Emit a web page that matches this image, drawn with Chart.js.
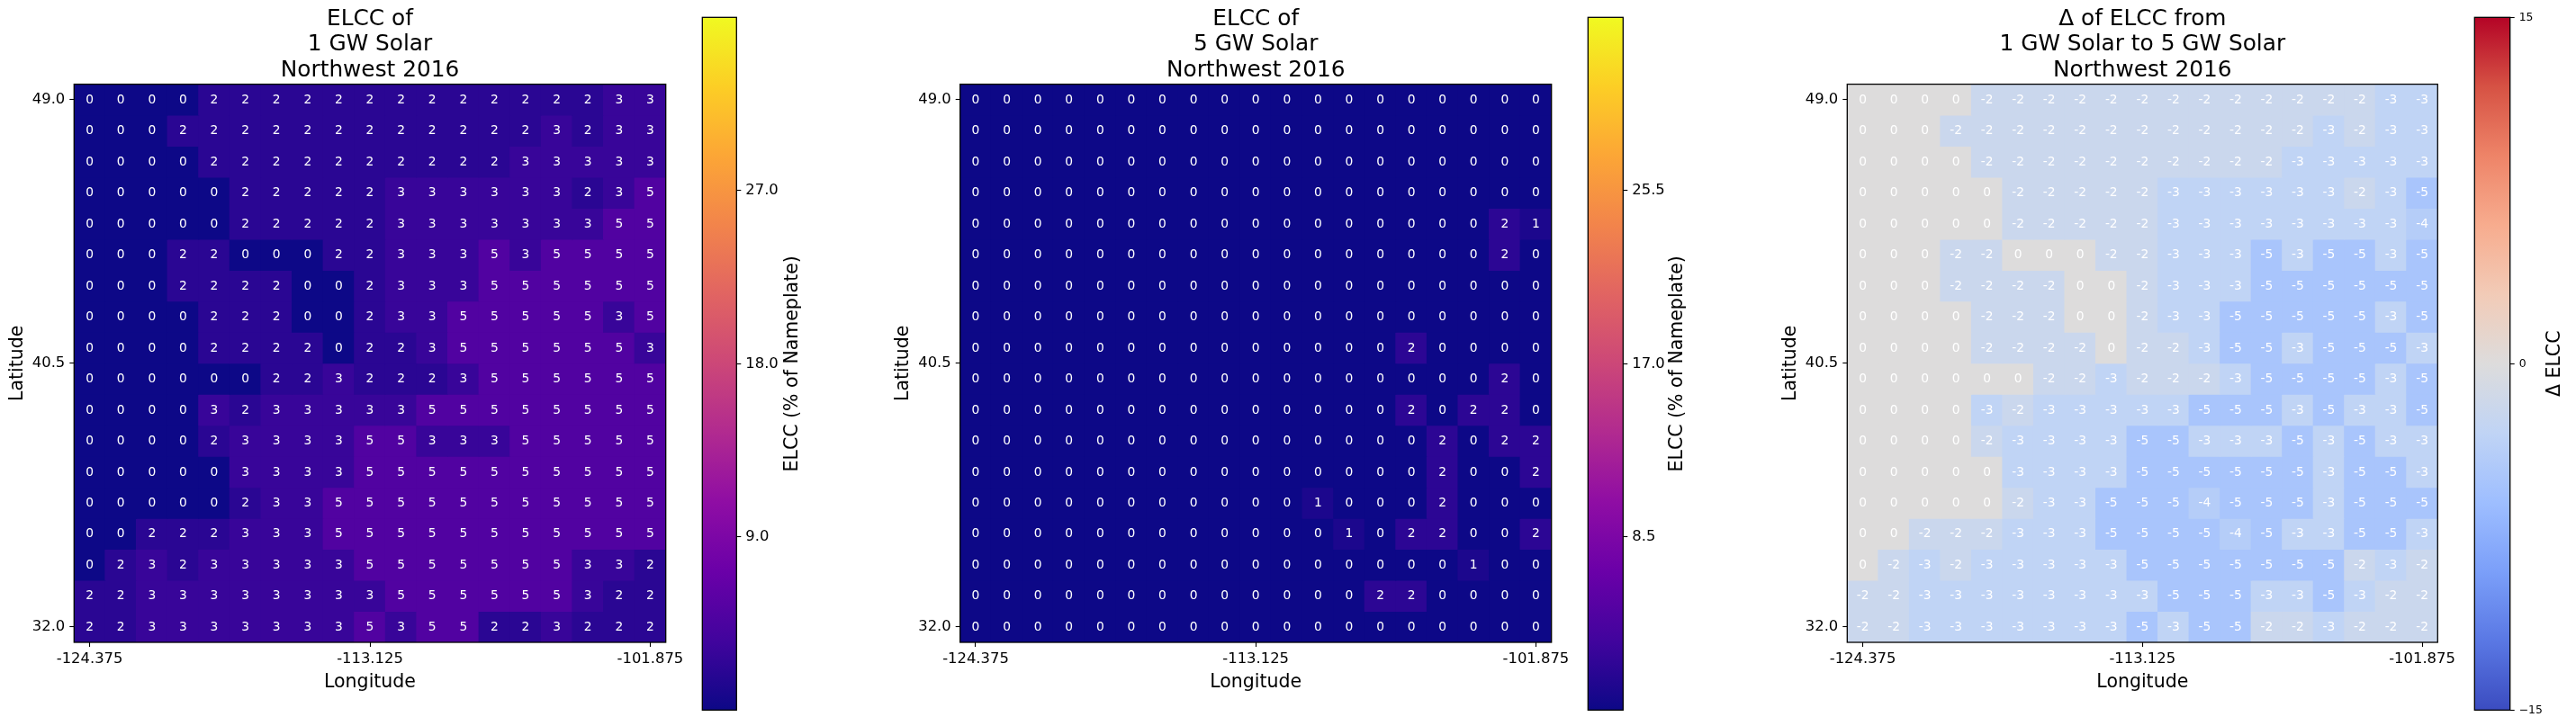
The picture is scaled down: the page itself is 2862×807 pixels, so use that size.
<!DOCTYPE html>
<html>
<head>
<meta charset="utf-8">
<script src="https://cdn.jsdelivr.net/npm/chart.js@4"></script>
<style>
html,body{margin:0;padding:0;background:#fff;width:2862px;height:807px;overflow:hidden}
canvas{position:absolute;top:0;display:block}
</style>
</head>
<body>
<script>
const longitudes = ['-124.375','-123.125','-121.875','-120.625','-119.375','-118.125','-116.875','-115.625','-114.375','-113.125','-111.875','-110.625','-109.375','-108.125','-106.875','-105.625','-104.375','-103.125','-101.875'];
const latitudes = [49,48,47,46,45,44,43,42,41,40,39,38,37,36,35,34,33,32];
const lonTickLabels = ['-124.375','-113.125','-101.875'];
const latTicks = [49,40.5,32];

const elcc1GW = [
[0,0,0,0,2,2,2,2,2,2,2,2,2,2,2,2,2,3,3],
[0,0,0,2,2,2,2,2,2,2,2,2,2,2,2,3,2,3,3],
[0,0,0,0,2,2,2,2,2,2,2,2,2,2,3,3,3,3,3],
[0,0,0,0,0,2,2,2,2,2,3,3,3,3,3,3,2,3,5],
[0,0,0,0,0,2,2,2,2,2,3,3,3,3,3,3,3,5,5],
[0,0,0,2,2,0,0,0,2,2,3,3,3,5,3,5,5,5,5],
[0,0,0,2,2,2,2,0,0,2,3,3,3,5,5,5,5,5,5],
[0,0,0,0,2,2,2,0,0,2,3,3,5,5,5,5,5,3,5],
[0,0,0,0,2,2,2,2,0,2,2,3,5,5,5,5,5,5,3],
[0,0,0,0,0,0,2,2,3,2,2,2,3,5,5,5,5,5,5],
[0,0,0,0,3,2,3,3,3,3,3,5,5,5,5,5,5,5,5],
[0,0,0,0,2,3,3,3,3,5,5,3,3,3,5,5,5,5,5],
[0,0,0,0,0,3,3,3,3,5,5,5,5,5,5,5,5,5,5],
[0,0,0,0,0,2,3,3,5,5,5,5,5,5,5,5,5,5,5],
[0,0,2,2,2,3,3,3,5,5,5,5,5,5,5,5,5,5,5],
[0,2,3,2,3,3,3,3,3,5,5,5,5,5,5,5,3,3,2],
[2,2,3,3,3,3,3,3,3,3,5,5,5,5,5,5,3,2,2],
[2,2,3,3,3,3,3,3,3,5,3,5,5,2,2,3,2,2,2]
];
const elcc5GW = [
[0,0,0,0,0,0,0,0,0,0,0,0,0,0,0,0,0,0,0],
[0,0,0,0,0,0,0,0,0,0,0,0,0,0,0,0,0,0,0],
[0,0,0,0,0,0,0,0,0,0,0,0,0,0,0,0,0,0,0],
[0,0,0,0,0,0,0,0,0,0,0,0,0,0,0,0,0,0,0],
[0,0,0,0,0,0,0,0,0,0,0,0,0,0,0,0,0,2,1],
[0,0,0,0,0,0,0,0,0,0,0,0,0,0,0,0,0,2,0],
[0,0,0,0,0,0,0,0,0,0,0,0,0,0,0,0,0,0,0],
[0,0,0,0,0,0,0,0,0,0,0,0,0,0,0,0,0,0,0],
[0,0,0,0,0,0,0,0,0,0,0,0,0,0,2,0,0,0,0],
[0,0,0,0,0,0,0,0,0,0,0,0,0,0,0,0,0,2,0],
[0,0,0,0,0,0,0,0,0,0,0,0,0,0,2,0,2,2,0],
[0,0,0,0,0,0,0,0,0,0,0,0,0,0,0,2,0,2,2],
[0,0,0,0,0,0,0,0,0,0,0,0,0,0,0,2,0,0,2],
[0,0,0,0,0,0,0,0,0,0,0,1,0,0,0,2,0,0,0],
[0,0,0,0,0,0,0,0,0,0,0,0,1,0,2,2,0,0,2],
[0,0,0,0,0,0,0,0,0,0,0,0,0,0,0,0,1,0,0],
[0,0,0,0,0,0,0,0,0,0,0,0,0,2,2,0,0,0,0],
[0,0,0,0,0,0,0,0,0,0,0,0,0,0,0,0,0,0,0]
];
const deltaElcc = [
[0,0,0,0,-2,-2,-2,-2,-2,-2,-2,-2,-2,-2,-2,-2,-2,-3,-3],
[0,0,0,-2,-2,-2,-2,-2,-2,-2,-2,-2,-2,-2,-2,-3,-2,-3,-3],
[0,0,0,0,-2,-2,-2,-2,-2,-2,-2,-2,-2,-2,-3,-3,-3,-3,-3],
[0,0,0,0,0,-2,-2,-2,-2,-2,-3,-3,-3,-3,-3,-3,-2,-3,-5],
[0,0,0,0,0,-2,-2,-2,-2,-2,-3,-3,-3,-3,-3,-3,-3,-3,-4],
[0,0,0,-2,-2,0,0,0,-2,-2,-3,-3,-3,-5,-3,-5,-5,-3,-5],
[0,0,0,-2,-2,-2,-2,0,0,-2,-3,-3,-3,-5,-5,-5,-5,-5,-5],
[0,0,0,0,-2,-2,-2,0,0,-2,-3,-3,-5,-5,-5,-5,-5,-3,-5],
[0,0,0,0,-2,-2,-2,-2,0,-2,-2,-3,-5,-5,-3,-5,-5,-5,-3],
[0,0,0,0,0,0,-2,-2,-3,-2,-2,-2,-3,-5,-5,-5,-5,-3,-5],
[0,0,0,0,-3,-2,-3,-3,-3,-3,-3,-5,-5,-5,-3,-5,-3,-3,-5],
[0,0,0,0,-2,-3,-3,-3,-3,-5,-5,-3,-3,-3,-5,-3,-5,-3,-3],
[0,0,0,0,0,-3,-3,-3,-3,-5,-5,-5,-5,-5,-5,-3,-5,-5,-3],
[0,0,0,0,0,-2,-3,-3,-5,-5,-5,-4,-5,-5,-5,-3,-5,-5,-5],
[0,0,-2,-2,-2,-3,-3,-3,-5,-5,-5,-5,-4,-5,-3,-3,-5,-5,-3],
[0,-2,-3,-2,-3,-3,-3,-3,-3,-5,-5,-5,-5,-5,-5,-5,-2,-3,-2],
[-2,-2,-3,-3,-3,-3,-3,-3,-3,-3,-5,-5,-5,-3,-3,-5,-3,-2,-2],
[-2,-2,-3,-3,-3,-3,-3,-3,-3,-5,-3,-5,-5,-2,-2,-3,-2,-2,-2]
];
const titles1 = ['ELCC of','1 GW Solar','Northwest 2016'];
const titles2 = ['ELCC of','5 GW Solar','Northwest 2016'];
const titles3 = ['Δ of ELCC from','1 GW Solar to 5 GW Solar','Northwest 2016'];
const cbar1Range = [0,36], cbar1Ticks = [9,18,27];
const cbar2Range = [0,34], cbar2Ticks = [8.5,17,25.5];
const cbar3Range = [-15,15], cbar3Ticks = [-15,0,15];

const plasma = ['#0d0887','#41049d','#6a00a8','#8f0da4','#b12a90','#cc4778','#e16462','#f2844b','#fca636','#fcce25','#f0f921'];
const coolwarm = ['#3b4cc0','#5a78e4','#7b9ff9','#9ebeff','#c0d4f5','#dddcdc','#f2cbb7','#f7ac8e','#ee8468','#d65244','#b40426'];

const FONT = '"DejaVu Sans"';
const H = 807;

function hex(c){return [1,3,5].map(i=>parseInt(c.substr(i,2),16));}
function cmap(stops,t){
  t=Math.max(0,Math.min(1,t));
  const p=t*(stops.length-1), i=Math.min(Math.floor(p),stops.length-2), f=p-i;
  const a=hex(stops[i]), b=hex(stops[i+1]);
  return 'rgb('+a.map((v,k)=>Math.round(v+(b[k]-v)*f)).join(',')+')';
}
function newCanvas(left,width){
  const c=document.createElement('canvas');
  c.width=width;c.height=H;
  c.style.left=left+'px';c.style.width=width+'px';c.style.height=H+'px';
  document.body.appendChild(c);
  return c.getContext('2d');
}
const framePlugin={id:'frame',afterDraw(chart){
  const a=chart.chartArea,ctx=chart.ctx;
  ctx.save();ctx.strokeStyle='#000';ctx.lineWidth=1.3;
  ctx.strokeRect(a.left,a.top,a.right-a.left,a.bottom-a.top);ctx.restore();
}};
const cellLabels={id:'cellLabels',afterDatasetsDraw(chart,args,opts){
  const ctx=chart.ctx,x=chart.scales.x,y=chart.scales.y;
  ctx.save();
  ctx.font='13.8px '+FONT;ctx.fillStyle=opts.color;ctx.textAlign='center';ctx.textBaseline='middle';
  opts.values.forEach((row,r)=>row.forEach((v,c)=>{
    ctx.fillText(String(v),x.getPixelForValue(c),y.getPixelForValue(latitudes[r])+0.5);
  }));
  ctx.restore();
}};
const cbarTitle={id:'cbarTitle',afterDraw(chart,args,opts){
  const ctx=chart.ctx,a=chart.chartArea;
  ctx.save();
  ctx.font='20.5px '+FONT;ctx.fillStyle='#000';ctx.textAlign='center';ctx.textBaseline='middle';
  ctx.translate(a.right+opts.offset,(a.top+a.bottom)/2);ctx.rotate(-Math.PI/2);
  ctx.fillText(opts.text,0,0);ctx.restore();
}};

function heatmap(cfg){
  const ctx=newCanvas(cfg.canvasLeft,cfg.canvasWidth);
  const datasets=latitudes.map((lat,r)=>({
    data:cfg.values[r].map(()=>[lat-0.5,lat+0.5]),
    backgroundColor:cfg.values[r].map(v=>cmap(cfg.stops,(v-cfg.range[0])/(cfg.range[1]-cfg.range[0]))),
    borderWidth:0,barPercentage:1,categoryPercentage:1,grouped:false,inflateAmount:0.5
  }));
  new Chart(ctx,{type:'bar',data:{labels:longitudes,datasets},
    plugins:[framePlugin,cellLabels],
    options:{responsive:false,animation:false,devicePixelRatio:1,
      layout:{padding:{top:0,left:0,right:cfg.rightPad,bottom:0}},
      plugins:{legend:{display:false},tooltip:{enabled:false},
        title:{display:true,text:cfg.title,fullSize:false,color:'#000',
          font:{family:FONT,size:24.8,weight:'normal',lineHeight:1.141},
          padding:{top:7.5,bottom:1.2}},
        cellLabels:{values:cfg.values,color:'#fff'}},
      scales:{
        x:{type:'category',offset:true,
          afterBuildTicks(s){s.ticks=s.ticks.filter(t=>lonTickLabels.includes(longitudes[t.value]));},
          afterFit(s){s.height=H-714;},
          border:{display:false},
          grid:{offset:false,drawOnChartArea:false,drawTicks:true,tickLength:5,tickWidth:1.1,tickColor:'#000'},
          ticks:{autoSkip:false,maxRotation:0,minRotation:0,padding:4,color:'#000',font:{family:FONT,size:16.4}},
          title:{display:true,text:'Longitude',color:'#000',font:{family:FONT,size:20.5,lineHeight:1.2},padding:{top:0,bottom:36.5}}},
        y:{type:'linear',min:31.5,max:49.5,
          afterBuildTicks(s){s.ticks=latTicks.map(v=>({value:v}));},
          afterFit(s){s.width=cfg.plotLeft;},
          border:{display:false},
          grid:{drawOnChartArea:false,drawTicks:true,tickLength:5,tickWidth:1.1,tickColor:'#000'},
          ticks:{padding:5,color:'#000',font:{family:FONT,size:16.4},callback:v=>Number(v).toFixed(1)},
          title:{display:true,text:'Latitude',color:'#000',font:{family:FONT,size:20.5,lineHeight:1.2},padding:{top:7.4,bottom:0}}}
      }}});
}

function colorbar(cfg){
  const ctx=newCanvas(cfg.canvasLeft,cfg.canvasWidth);
  const grad=(c)=>{
    const a=c.chart.chartArea; if(!a) return cfg.stops[0];
    const g=c.chart.ctx.createLinearGradient(0,a.bottom,0,a.top);
    cfg.stops.forEach((s,i)=>g.addColorStop(i/(cfg.stops.length-1),s));
    return g;
  };
  new Chart(ctx,{type:'bar',data:{labels:['scale'],datasets:[{data:[cfg.range],backgroundColor:grad,borderWidth:0,barPercentage:1,categoryPercentage:1}]},
    plugins:[framePlugin,cbarTitle],
    options:{responsive:false,animation:false,devicePixelRatio:1,
      layout:{padding:{top:19.3,bottom:H-789.3,left:cfg.leftPad,right:0}},
      plugins:{legend:{display:false},tooltip:{enabled:false},cbarTitle:{text:cfg.label,offset:cfg.labelOffset}},
      scales:{
        x:{display:false},
        y:{type:'linear',position:'right',min:cfg.range[0],max:cfg.range[1],
          afterBuildTicks(s){s.ticks=cfg.ticks.map(v=>({value:v}));},
          afterFit(s){s.width=cfg.axisWidth;},
          border:{display:false},
          grid:{drawOnChartArea:false,drawTicks:true,tickLength:5,tickWidth:1.1,tickColor:'#000'},
          ticks:{padding:5,color:'#000',font:{family:FONT,size:cfg.tickSize},callback:cfg.fmt}}
      }}});
}

heatmap({canvasLeft:0,canvasWidth:770,plotLeft:82.3,rightPad:30.3,title:titles1,values:elcc1GW,stops:plasma,range:cbar1Range});
colorbar({canvasLeft:770,canvasWidth:130,leftPad:10.3,axisWidth:81.7,range:cbar1Range,ticks:cbar1Ticks,stops:plasma,label:'ELCC (% of Nameplate)',labelOffset:62,tickSize:16.4,fmt:v=>Number(v).toFixed(1)});
heatmap({canvasLeft:984,canvasWidth:770,plotLeft:82.7,rightPad:30.3,title:titles2,values:elcc5GW,stops:plasma,range:cbar2Range});
colorbar({canvasLeft:1754,canvasWidth:130,leftPad:10.3,axisWidth:80.7,range:cbar2Range,ticks:cbar2Ticks,stops:plasma,label:'ELCC (% of Nameplate)',labelOffset:60,tickSize:16.4,fmt:v=>Number(v).toFixed(1)});
heatmap({canvasLeft:1970,canvasWidth:770,plotLeft:82.3,rightPad:31.7,title:titles3,values:deltaElcc,stops:coolwarm,range:cbar3Range});
colorbar({canvasLeft:2740,canvasWidth:122,leftPad:9.3,axisWidth:73.3,range:cbar3Range,ticks:cbar3Ticks,stops:coolwarm,label:'Δ ELCC',labelOffset:50,tickSize:12.4,fmt:v=>String(v).replace('-','\u2212')});
</script>
</body>
</html>
